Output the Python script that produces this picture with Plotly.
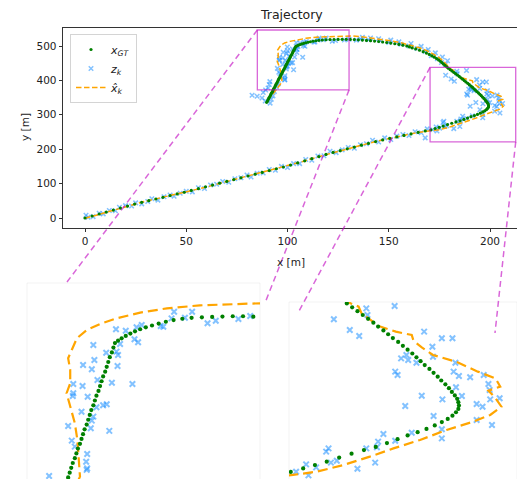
import plotly.graph_objects as go

W, H = 517, 479

# ---------------- data ----------------
gt_x = [0, 3.5, 7, 10.5, 14, 17.5, 21, 24.5, 28, 31.5, 35, 38.5, 42, 45.5, 49, 52.5, 56, 59.5, 63, 66.5,
        70, 73.5, 77, 80.5, 84, 87.5, 91, 94.5, 98, 101.5, 105, 108.5, 112, 115.5, 119, 122.5, 126, 129.5,
        133, 136.5, 140, 143.5, 147, 150.5, 154, 157.5, 161, 164.5, 168,
        170.8, 172.9, 174.9, 176.9, 179.0, 181.1, 183.2, 185.2, 187.1, 188.9, 190.6, 192.3, 193.8, 195.2,
        196.4, 197.4, 198.2, 198.8, 199.2, 199.3, 199.2, 199.0, 198.6, 198.1,
        197.6, 197.0, 196.3, 195.7, 195.0, 194.3, 193.5, 192.8, 192.1, 191.4, 190.6, 189.8, 189.0, 188.1,
        187.3, 186.5, 185.6, 184.8, 183.9, 183.0, 182.1, 181.2, 180.3, 179.4, 178.6, 177.8, 177.0, 176.3, 175.5,
        174.6, 173.6, 172.5, 171.3, 170.0, 168.6, 167.0, 165.2, 163.3, 161.6, 160.2,
        158.9, 157.0, 155.0, 153.0, 151.0, 149.0, 147.0, 145.0, 143.0, 141.0, 139.0, 137.0, 135.0, 133.0,
        131.0, 129.0, 127.0, 125.0, 123.0, 121.0, 119.0, 117.2, 115.5, 114.0, 112.6, 111.3, 110.1, 109.0,
        108.0, 107.1, 106.2, 105.4, 104.7, 104.1,
        103.8, 103.5, 103.1, 102.8, 102.5, 102.2, 101.8, 101.5, 101.2, 100.9, 100.5, 100.2, 99.9, 99.5,
        99.2, 98.9, 98.6, 98.2, 97.9, 97.6, 97.3, 96.9, 96.6, 96.3, 95.9, 95.6, 95.3, 95.0, 94.6, 94.3,
        94.0, 93.7, 93.3, 93.0, 92.7, 92.4, 92.0, 91.7, 91.4, 91.0, 90.7, 90.4, 90.1, 89.7]
gt_y = [0, 5.8, 11.6, 17.3, 23.1, 28.9, 34.7, 40.4, 45.5, 50.4, 55.3, 60.2, 65.1, 70.0, 74.9, 80.1, 85.3,
        90.6, 95.8, 101.1, 106.3, 111.6, 116.8, 122.1, 127.3, 132.6, 137.8, 143.1, 148.3, 153.9, 160.1,
        166.3, 172.4, 178.6, 184.7, 190.6, 195.8, 201.1, 206.3, 211.6, 216.8, 222.1, 227.0, 231.4, 235.8,
        240.1, 244.5, 248.9, 253.2,
        256.5, 260.2, 263.7, 267.2, 271.5, 275.5, 279.2, 282.5, 286.5, 290.6, 294.5, 297.8, 301.2, 304.8,
        308.3, 311.6, 315.0, 318.5, 322.0, 325.5, 329.0, 332.5, 336.0, 339.6,
        343.5, 347.5, 351.5, 355.5, 359.5, 363.5, 367.5, 371.5, 375.5, 379.5, 383.5, 387.5, 391.5, 395.5,
        399.5, 403.5, 407.5, 411.5, 415.5, 419.5, 423.5, 427.5, 431.5, 435.5, 439.5, 443.5, 447.5, 451.5, 455.5,
        459.5, 463.5, 467.5, 471.5, 475.5, 479.5, 483.6, 487.6, 491.4, 494.5, 497.3,
        500.0, 502.4, 504.6, 506.6, 508.5, 510.2, 511.7, 513.1, 514.3, 515.4, 516.3, 517.2, 517.9, 518.6,
        519.1, 519.4, 519.4, 519.2, 518.9, 518.6, 518.2, 517.5, 516.5, 515.2, 513.8, 512.3, 510.9, 509.4,
        507.8, 506.1, 504.3, 502.4, 500.6, 498.8,
        495.3, 491.6, 487.9, 484.2, 480.5, 476.8, 473.1, 469.4, 465.7, 462.0, 458.3, 454.6, 450.9, 447.2,
        443.5, 439.8, 436.1, 432.4, 428.7, 425.0, 421.3, 417.6, 413.9, 410.2, 406.5, 402.8, 399.1, 395.4,
        391.7, 388.0, 384.3, 380.6, 376.9, 373.2, 369.5, 365.8, 362.1, 358.4, 354.7, 351.0, 347.3, 343.6,
        339.9, 336.2]

z_x = [0.5, 1.5, 4, 7, 9, 12, 15, 17, 20, 23, 25, 28, 31, 33, 36, 39, 42, 44, 47, 50, 53, 56, 59, 62, 65,
       68, 71, 74, 77, 80, 82, 85, 88, 91, 94, 97, 100, 103, 106, 109, 112, 115, 118, 121, 124, 127, 130,
       133, 136, 139, 142, 145, 148, 151, 154, 157, 160, 163, 166, 169, 168,
       178, 176, 179, 174, 176.5, 171, 173, 168, 169.5, 164, 166, 160, 161, 156, 155, 150, 151, 146, 145,
       140, 141, 136, 137, 134,
       82.5, 85, 87.4, 89, 91.4, 92.8, 90.4, 88, 93.5, 91, 94.5, 89.2, 92, 95.5,
       104.3, 106.2, 108.3, 109.3, 115.6, 119.1, 115.1, 117.7, 113.0, 113.5, 122.1, 123.7, 128.1, 130.4,
       99.9, 102.4, 104.4, 104.7, 105.1, 107.9, 108.6, 100.1, 97.9, 99.6, 104.6, 100.7, 103.5, 107.5,
       96.0, 97.8, 96.0, 95.9, 98.8, 97.6, 100.5, 101.8, 102.5, 99.9, 99.6, 95.0, 103.0, 99.4, 95.7,
       96.3, 98.7, 98.5, 98.7, 91.3, 98.6,
       188.4, 183.6, 183.8, 178.1, 180.8, 182.4, 193.4, 196.4, 198.2, 194.8, 189.5, 190.7, 192.1, 190.4,
       194.9, 198.7, 188.5, 188.9, 198.4, 199.3, 201.2, 203.5, 204.3, 204.5, 198.8, 199.8, 193.0, 196.5,
       190.2, 195.0, 204.6, 206.2, 202.3, 203.3, 202.3, 204.9, 196.4, 196.4, 191.3, 186.5, 185.6, 188.5,
       185.4, 183.6, 177.2, 176.8, 178.6, 177.6, 185.1, 182.1, 173.4, 175.1, 171.7, 173.8]
z_y = [8, 2, 4, 14, 12, 22, 21, 31, 36, 35, 44, 41, 48, 56, 52, 62, 67, 63, 72, 78, 76, 88, 86, 96, 98,
       106, 104, 114, 117, 125, 119, 130, 131, 141, 139, 150, 147, 158, 158, 170, 168, 180, 181, 194, 190,
       198, 205, 203, 213, 216, 226, 221, 233, 228, 238, 243, 240, 251, 248, 259, 233,
       446, 452, 457, 463, 468, 472, 480, 484, 490, 493, 499, 500, 507, 505, 512, 510, 517, 515, 521,
       518, 523, 520, 525, 517,
       357, 354, 349, 340, 334, 355, 378, 365, 368, 388, 381, 372, 345, 390,
       509.4, 508.3, 510.9, 512.7, 522.9, 522.9, 517.8, 518.3, 511.9, 511.4, 514.0, 516.0, 517.3, 519.6,
       497.3, 491.4, 492.2, 489.6, 498.1, 501.7, 499.4, 485.8, 481.9, 478.6, 481.2, 470.4, 468.3, 467.3,
       467.3, 465.8, 460.2, 458.1, 457.5, 446.0, 449.4, 450.9, 451.7, 442.2, 439.1, 435.0, 431.2, 433.2,
       423.7, 419.1, 413.5, 407.5, 402.4, 396.5, 401.2,
       428.8, 426.4, 419.5, 415.0, 403.9, 397.7, 402.2, 395.3, 395.3, 386.6, 374.5, 372.8, 370.0, 378.0,
       376.2, 370.0, 360.7, 357.2, 360.7, 356.2, 354.8, 357.2, 347.9, 341.6, 344.4, 335.4, 335.7, 331.9,
       325.0, 314.6, 331.9, 333.0, 327.1, 324.3, 310.5, 305.3, 300.8, 291.4, 297.3, 295.9, 288.0, 289.0,
       282.1, 281.0, 281.0, 277.6, 268.2, 266.2, 266.2, 259.9, 264.4, 261.3, 256.8, 253.0]

est_x = [0, 6, 12, 18, 24, 30, 36, 42, 48, 54, 60, 66, 72, 78, 84, 90, 96, 102, 108, 114, 120, 126, 132,
         138, 144, 150, 156, 162, 167,
         171.2, 175.2, 179.7, 184.2, 188.2, 192.7, 197.2, 201.7, 204.6, 206.5, 205.4, 204.3, 206.3, 205.5,
         202.5, 198.8, 194.9, 193.0, 191.6, 191.3, 188.6, 185.7, 182.8, 182.3, 180.9,
         179.5, 178.2, 176.5, 174.5, 172, 169, 165.5, 161.5, 157, 152, 146.5, 141, 136.5, 132.3, 127.1,
         120.6, 114.2, 109.0, 104.4, 101.2, 98.6, 96.7, 95.7, 95.0, 95.4, 95.4, 94.7, 95.4, 96.3, 96.8,
         97.0, 97.3, 96.0, 94.2, 92.5, 91.0, 89.5]
est_y = [-1, 9, 20, 30, 39, 49, 57, 65, 73, 82, 90, 100, 109, 118, 127, 136, 145, 154, 165, 176, 186,
         195, 205, 214, 223, 231, 238, 246, 251,
         253.4, 256.8, 263.7, 272.4, 281.0, 289.7, 300.1, 308.7, 315.7, 324.3, 334.0, 340.9, 345.1, 353.7,
         360.7, 371.0, 378.0, 385.9, 392.8, 398.7, 402.2, 408.1, 421.2, 428.2, 431.6,
         440, 450, 458, 468, 477, 486, 494, 501, 508, 514, 519, 523.5, 527, 529.4, 528.8, 527.8, 525.5,
         522.2, 517.8, 513.5, 508.8, 502.5, 493.5, 487.1, 478.1, 467.8, 460.2, 449.9, 437.1, 424.2, 411.4,
         396.0, 385, 372, 360, 348, 337]

x_ticks = [0, 50, 100, 150, 200]
y_ticks = [0, 100, 200, 300, 400, 500]

# zoom rectangles shown on the main axes (data units)
zoom1_x = [85.1, 130.4]
zoom1_y = [372.4, 546.5]
zoom2_x = [170.4, 212.7]
zoom2_y = [221.5, 438.0]

# ---------------- layout / style ----------------
MAIN_BOX = (63, 517, 28, 228)          # left, right, top, bottom (px)
MAIN_XR = [-10.864, 213.33]
MAIN_YR = [-29.07, 552.33]
IN1_BOX = (27, 260, 283, 479)
IN1_XR = [87.0, 132.3]
IN1_YR = [394.2, 545.0]
IN2_BOX = (289, 517, 302, 479)
IN2_XR = [170.5, 209.14]
IN2_YR = [249.2, 433.0]
CONN_END = [(67, 282), (265, 303), (298, 313), (495, 333)]

FONT = "DejaVu Sans"
MAG = "rgba(191,0,191,0.6)"
BLUE = "rgba(30,144,255,0.55)"
ORANGE = "#FFA500"
GREEN = "#008000"


def dom_x(box):
    return [box[0] / W, box[1] / W]


def dom_y(box):
    return [1 - box[3] / H, 1 - box[2] / H]


def main_to_paper(x, y):
    dx, dy = dom_x(MAIN_BOX), dom_y(MAIN_BOX)
    px = dx[0] + (x - MAIN_XR[0]) / (MAIN_XR[1] - MAIN_XR[0]) * (dx[1] - dx[0])
    py = dy[0] + (y - MAIN_YR[0]) / (MAIN_YR[1] - MAIN_YR[0]) * (dy[1] - dy[0])
    return px, py


def px_to_paper(px, py):
    return px / W, 1 - py / H


fig = go.Figure()

panels = [("x", "y", 4.5, 1.5, 3.2, 1.5, "5.5px,2.5px", True),
          ("x2", "y2", 5.5, 2.0, 4.2, 2.2, "10px,5px", False),
          ("x3", "y3", 5.5, 2.0, 4.2, 2.2, "10px,5px", False)]

for xa, ya, zs, zw, gs, ew, dash, show in panels:
    fig.add_trace(go.Scatter(x=z_x, y=z_y, mode="markers", name="<i>z<sub>k</sub></i>",
                             marker=dict(symbol="x-thin", size=zs, color=BLUE,
                                         line=dict(color=BLUE, width=zw)),
                             xaxis=xa, yaxis=ya, showlegend=show, legendrank=2))
    fig.add_trace(go.Scatter(x=est_x, y=est_y, mode="lines", name="<i>x\u0302<sub>k</sub></i>",
                             line=dict(color=ORANGE, width=ew, dash=dash),
                             xaxis=xa, yaxis=ya, showlegend=show, legendrank=3))
    fig.add_trace(go.Scatter(x=gt_x, y=gt_y, mode="markers", name="<i>x<sub>GT</sub></i>",
                             marker=dict(symbol="circle", size=gs, color=GREEN, line=dict(width=0)),
                             xaxis=xa, yaxis=ya, showlegend=show, legendrank=1))

axis_common = dict(showgrid=False, zeroline=False)
hidden = dict(showgrid=False, zeroline=False, showticklabels=False, ticks="", showline=False)

fig.update_layout(
    width=W, height=H, margin=dict(l=0, r=0, t=0, b=0),
    paper_bgcolor="white", plot_bgcolor="white",
    font=dict(family=FONT, color="#222", size=10.5),
    xaxis=dict(domain=dom_x(MAIN_BOX), range=MAIN_XR, tickvals=x_ticks, ticks="outside",
               ticklen=3.5, tickwidth=0.8, tickcolor="#333", showline=True, linecolor="#333",
               linewidth=0.8, mirror=True, tickfont=dict(size=10.5), anchor="y", **axis_common),
    yaxis=dict(domain=dom_y(MAIN_BOX), range=MAIN_YR, tickvals=y_ticks, ticks="outside",
               ticklen=3.5, tickwidth=0.8, tickcolor="#333", showline=True, linecolor="#333",
               linewidth=0.8, mirror=False, tickfont=dict(size=10.5), anchor="x", **axis_common),
    xaxis2=dict(domain=dom_x(IN1_BOX), range=IN1_XR, anchor="y2", **hidden),
    yaxis2=dict(domain=dom_y(IN1_BOX), range=IN1_YR, anchor="x2", **hidden),
    xaxis3=dict(domain=dom_x(IN2_BOX), range=IN2_XR, anchor="y3", **hidden),
    yaxis3=dict(domain=dom_y(IN2_BOX), range=IN2_YR, anchor="x3", **hidden),
    legend=dict(x=70 / W, y=1 - 34 / H, xanchor="left", yanchor="top",
                bgcolor="rgba(255,255,255,0.85)", bordercolor="#d4d4d4", borderwidth=1,
                font=dict(size=11, family=FONT), tracegroupgap=0, itemwidth=30),
)

annotations = [
    dict(text="Trajectory", x=(MAIN_BOX[0] + 519) / 2 / W, y=1 - 15 / H, xref="paper", yref="paper",
         showarrow=False, font=dict(size=12.5, family=FONT, color="#222"), xanchor="center", yanchor="middle"),
    dict(text="x [m]", x=(MAIN_BOX[0] + 519) / 2 / W, y=1 - 262 / H, xref="paper", yref="paper",
         showarrow=False, font=dict(size=10.5, family=FONT, color="#222"), xanchor="center", yanchor="middle"),
    dict(text="y [m]", x=25 / W, y=1 - 127 / H, xref="paper", yref="paper", textangle=-90,
         showarrow=False, font=dict(size=10.5, family=FONT, color="#222"), xanchor="center", yanchor="middle"),
]
fig.update_layout(annotations=annotations)

shapes = []
for zx, zy in [(zoom1_x, zoom1_y), (zoom2_x, zoom2_y)]:
    shapes.append(dict(type="rect", xref="x", yref="y", x0=zx[0], x1=zx[1], y0=zy[0], y1=zy[1],
                       line=dict(color=MAG, width=1.3), layer="above"))

corners = [(zoom1_x[0], zoom1_y[1]), (zoom1_x[1], zoom1_y[0]),
           (zoom2_x[0], zoom2_y[1]), (zoom2_x[1], zoom2_y[0])]
for (cx, cy), (ex, ey) in zip(corners, CONN_END):
    p0 = main_to_paper(cx, cy)
    p1 = px_to_paper(ex, ey)
    shapes.append(dict(type="line", xref="paper", yref="paper", x0=p0[0], y0=p0[1], x1=p1[0], y1=p1[1],
                       line=dict(color=MAG, width=1.5, dash="6px,4px"), layer="above"))

for box in [IN1_BOX, IN2_BOX]:
    l, r, t, b = box
    faint = dict(color="rgba(0,0,0,0.05)", width=1)
    for (a, bb, c, d) in [(l, t, r, t), (l, t, l, b), (r, t, r, b)]:
        p0 = px_to_paper(a, bb)
        p1 = px_to_paper(c, d)
        shapes.append(dict(type="line", xref="paper", yref="paper", x0=p0[0], y0=p0[1],
                           x1=p1[0], y1=p1[1], line=faint, layer="below"))

fig.update_layout(shapes=shapes)

fig.write_html("out.html", config={"displayModeBar": False},
               post_script="document.body.style.margin='0px';document.body.style.overflow='hidden';")
